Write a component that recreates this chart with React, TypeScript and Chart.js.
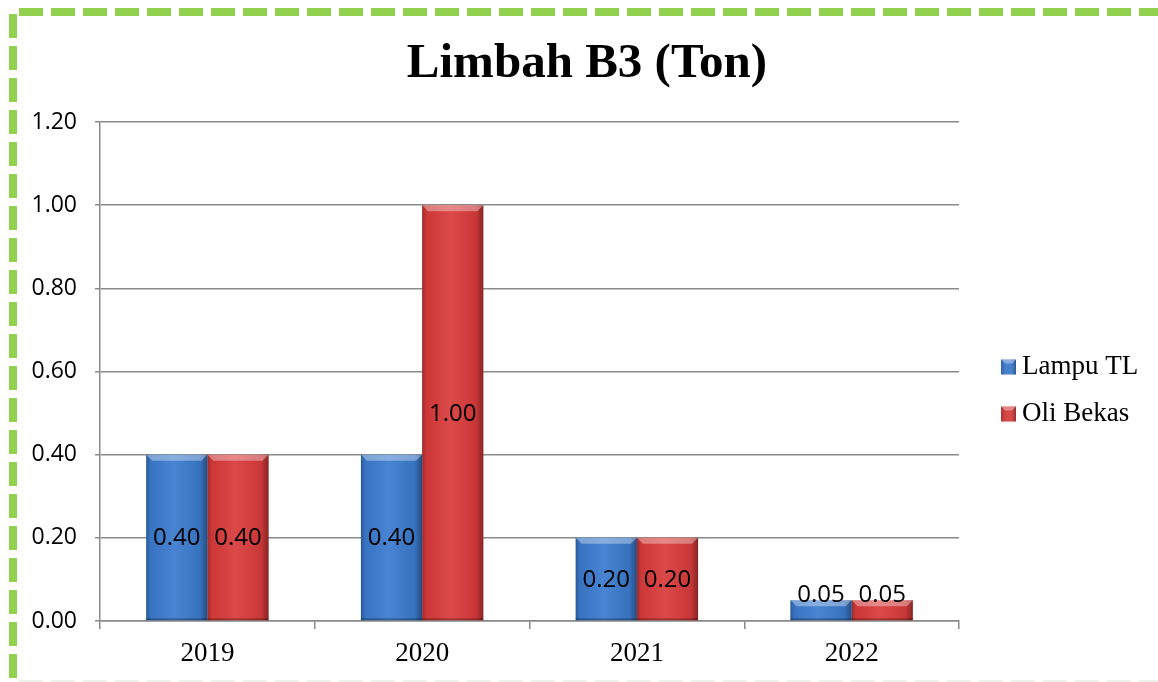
import React, { useEffect, useRef } from "react";
import { Chart, registerables } from "chart.js";

Chart.register(...registerables);

const TITLE = "Limbah B3 (Ton)";
const categories = ["2019", "2020", "2021", "2022"];
const seriesNames = ["Lampu TL", "Oli Bekas"];
const lampuTL = [0.4, 0.4, 0.2, 0.05];
const oliBekas = [0.4, 1.0, 0.2, 0.05];
const yMin = 0;
const yMax = 1.2;
const yStep = 0.2;
const seriesColors = ["#3b7bce", "#d93b3b"];
const BORDER_GREEN = "#92D050";
const GRID = "#8a8a8a";
const NUM_FONT = "'Open Sans'";

const W = 1158;
const H = 682;

const framePlugin = {
  id: "frame",
  afterDraw(chart: any) {
    const ctx = chart.ctx;
    ctx.save();
    ctx.strokeStyle = BORDER_GREEN;
    ctx.lineWidth = 8;
    ctx.lineCap = "butt";
    ctx.setLineDash([24, 8]);
    ctx.beginPath();
    ctx.moveTo(19, 12);
    ctx.lineTo(W, 12);
    ctx.stroke();
    ctx.beginPath();
    ctx.moveTo(13, 14);
    ctx.lineTo(13, H);
    ctx.stroke();
    ctx.strokeStyle = "#eef2ea";
    ctx.lineWidth = 2;
    ctx.beginPath();
    ctx.moveTo(19, 681);
    ctx.lineTo(W, 681);
    ctx.stroke();
    ctx.restore();

    // title
    ctx.save();
    ctx.fillStyle = "#000";
    ctx.font = "bold 49px 'Liberation Serif'";
    ctx.textAlign = "center";
    ctx.textBaseline = "alphabetic";
    ctx.fillText(TITLE, 587, 77);
    ctx.restore();

    // legend
    ctx.save();
    const items = chart.data.datasets;
    items.forEach((ds: any, i: number) => {
      const cy = 367 + i * 47;
      const bx = 1001;
      const by = cy - 7.5;
      ctx.fillStyle = ds.backgroundColor;
      ctx.fillRect(bx, by, 15, 15);
      const g = ctx.createLinearGradient(bx, 0, bx + 15, 0);
      g.addColorStop(0, "rgba(0,0,0,0.2)");
      g.addColorStop(0.5, "rgba(255,255,255,0.05)");
      g.addColorStop(1, "rgba(0,0,0,0.3)");
      ctx.fillStyle = g;
      ctx.fillRect(bx, by, 15, 15);
      ctx.fillStyle = "rgba(255,255,255,0.35)";
      ctx.beginPath();
      ctx.moveTo(bx, by);
      ctx.lineTo(bx + 15, by);
      ctx.lineTo(bx + 11, by + 4);
      ctx.lineTo(bx + 4, by + 4);
      ctx.closePath();
      ctx.fill();
      ctx.fillStyle = "#000";
      ctx.font = "27px 'Liberation Serif'";
      ctx.textAlign = "left";
      ctx.textBaseline = "middle";
      ctx.fillText(ds.label, 1022, cy);
    });
    ctx.restore();
  },
};

const barShadePlugin = {
  id: "barShade",
  afterDatasetsDraw(chart: any) {
    const ctx = chart.ctx;
    ctx.save();
    chart.data.datasets.forEach((ds: any, di: number) => {
      const meta = chart.getDatasetMeta(di);
      meta.data.forEach((el: any) => {
        const { x, y, base, width } = el.getProps(["x", "y", "base", "width"], true);
        const left = x - width / 2;
        const right = x + width / 2;
        const h = base - y;
        const g = ctx.createLinearGradient(left, 0, right, 0);
        g.addColorStop(0, "rgba(0,0,0,0.28)");
        g.addColorStop(0.07, "rgba(0,0,0,0.06)");
        g.addColorStop(0.45, "rgba(255,255,255,0.07)");
        g.addColorStop(0.88, "rgba(0,0,0,0.08)");
        g.addColorStop(1, "rgba(0,0,0,0.38)");
        ctx.fillStyle = g;
        ctx.fillRect(left, y, width, h);
        const bev = Math.min(6, h / 3);
        ctx.fillStyle = "rgba(255,255,255,0.35)";
        ctx.beginPath();
        ctx.moveTo(left, y);
        ctx.lineTo(right, y);
        ctx.lineTo(right - bev, y + bev);
        ctx.lineTo(left + bev, y + bev);
        ctx.closePath();
        ctx.fill();
        ctx.fillStyle = "rgba(0,0,0,0.25)";
        ctx.fillRect(left, base - 2, width, 2);
      });
    });
    // data labels
    ctx.fillStyle = "#000";
    ctx.font = "24px " + NUM_FONT;
    ctx.textAlign = "center";
    ctx.textBaseline = "middle";
    chart.data.datasets.forEach((ds: any, di: number) => {
      const meta = chart.getDatasetMeta(di);
      meta.data.forEach((el: any, i: number) => {
        const { x, y, base } = el.getProps(["x", "y", "base"], true);
        const h = base - y;
        const cy = h < 26 ? y - 5 : (y + base) / 2 + 1;
        ctx.fillText(Number(ds.data[i]).toFixed(2), x, cy);
      });
    });
    ctx.restore();
  },
};

export default function App() {
  const ref = useRef<HTMLCanvasElement | null>(null);

  useEffect(() => {
    document.body.style.margin = "0";
    const canvas = ref.current;
    if (!canvas) return;
    const chart = new Chart(canvas, {
      type: "bar",
      data: {
        labels: categories,
        datasets: [
          { label: seriesNames[0], data: lampuTL, backgroundColor: seriesColors[0], borderWidth: 0 },
          { label: seriesNames[1], data: oliBekas, backgroundColor: seriesColors[1], borderWidth: 0 },
        ],
      },
      options: {
        responsive: false,
        animation: false,
        devicePixelRatio: 1,
        layout: { padding: { top: 122, right: 199, bottom: 0, left: 0 } },
        datasets: { bar: { categoryPercentage: 0.57, barPercentage: 1.0 } },
        plugins: {
          legend: { display: false },
          title: { display: false },
          tooltip: { enabled: false },
        },
        scales: {
          x: {
            offset: true,
            grid: {
              display: true,
              offset: true,
              drawOnChartArea: false,
              drawTicks: true,
              tickLength: 8,
              color: GRID,
              lineWidth: 1.5,
            },
            border: { display: true, color: GRID, width: 1.5 },
            ticks: {
              color: "#000",
              padding: 9,
              font: { family: "'Liberation Serif'", size: 27 },
            },
            afterFit: (s: any) => {
              s.height = 61;
            },
          },
          y: {
            min: yMin,
            max: yMax,
            grid: { color: GRID, lineWidth: 1.5, tickLength: 5, drawTicks: true },
            border: { display: true, color: GRID, width: 1.5 },
            ticks: {
              stepSize: yStep,
              color: "#000",
              padding: 18,
              font: { family: NUM_FONT, size: 23 },
              callback: (v: any) => Number(v).toFixed(2),
            },
            afterFit: (s: any) => {
              s.width = 100;
            },
          },
        },
      },
      plugins: [barShadePlugin, framePlugin],
    });
    return () => chart.destroy();
  }, []);

  return (
    <div style={{ width: W, height: H, position: "relative", background: "#fff" }}>
      <canvas ref={ref} width={W} height={H} style={{ width: W, height: H, display: "block" }} />
    </div>
  );
}
